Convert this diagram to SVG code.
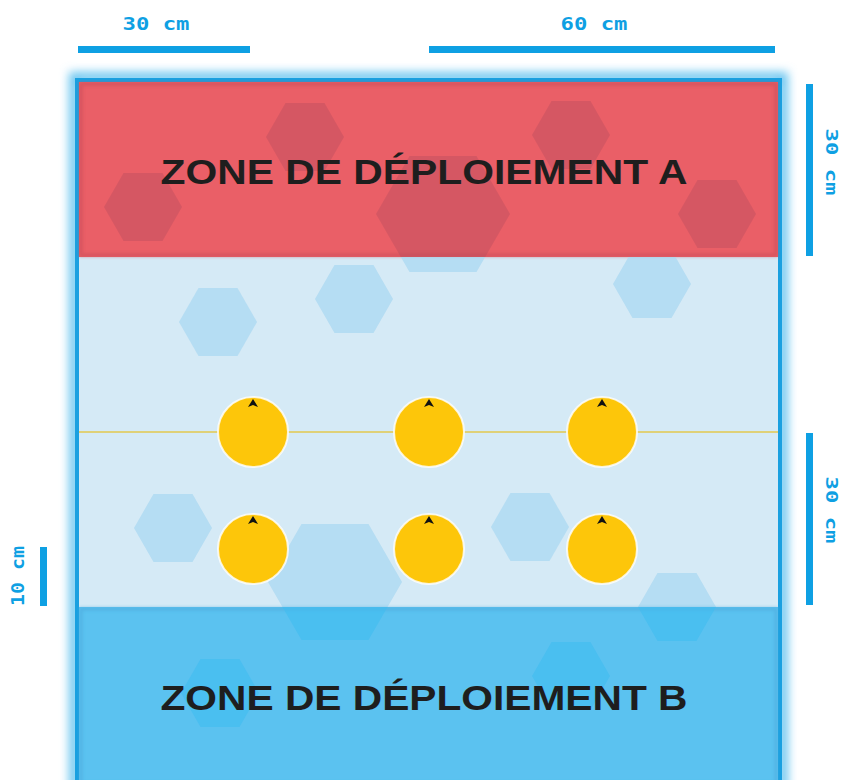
<svg xmlns="http://www.w3.org/2000/svg" width="843" height="780" viewBox="0 0 843 780">
<style>
.dim{fill:#0ea0e3;font-family:"DejaVu Sans Mono","Liberation Mono",monospace;font-weight:bold;font-size:17px}
.bar{fill:#0ea0e3}
.zone{fill:#1e1e1e;font-family:"Liberation Sans",Arial,sans-serif;font-weight:bold;font-size:35px}
.hexR{fill:#b04a5c;fill-opacity:0.35}
.hexL{fill:#a9d8f1;fill-opacity:0.75}
.hexB{fill:#3fbcf0;fill-opacity:0.6}
.tok{fill:#fdc60a;stroke:#fff;stroke-opacity:0.8;stroke-width:2}
.arr{fill:#111}
</style>
<defs>
<filter id="glow" x="-10%" y="-10%" width="120%" height="120%"><feGaussianBlur stdDeviation="5"/></filter>
<filter id="soft" x="-20%" y="-20%" width="140%" height="140%"><feGaussianBlur stdDeviation="1.5"/></filter>
<clipPath id="cR"><rect x="79" y="82" width="699" height="175"/></clipPath>
<clipPath id="cL"><rect x="79" y="257" width="699" height="350"/></clipPath>
<clipPath id="cB"><rect x="79" y="607" width="699" height="173"/></clipPath>
<polygon id="hs" points="-39,0 -19.5,-34 19.5,-34 39,0 19.5,34 -19.5,34"/>
<polygon id="hl" points="-67,0 -33.5,-58 33.5,-58 67,0 33.5,58 -33.5,58"/>
</defs>
<g id="board">
<rect x="74" y="77" width="709" height="720" fill="none" stroke="#6cc6f0" stroke-width="10" filter="url(#glow)"/>
<rect x="77" y="80" width="703" height="710" fill="#d5eaf6" stroke="#1aa0e0" stroke-width="4"/>
</g>
<g id="zoneA">
<rect x="79" y="82" width="699" height="175" fill="#ea5f67"/>
<rect x="81" y="84" width="695" height="171" fill="none" stroke="#c84b55" stroke-width="4" stroke-opacity="0.5" filter="url(#soft)"/>
<g clip-path="url(#cR)">
<use href="#hs" x="305" y="137" class="hexR"/>
<use href="#hs" x="143" y="207" class="hexR"/>
<use href="#hl" x="443" y="214" class="hexR"/>
<use href="#hs" x="571" y="135" class="hexR"/>
<use href="#hs" x="717" y="214" class="hexR"/>
</g>
<text x="424" y="184" class="zone" text-anchor="middle" textLength="527" lengthAdjust="spacingAndGlyphs">ZONE DE DÉPLOIEMENT A</text>
</g>
<g id="middle">
<g clip-path="url(#cL)">
<use href="#hl" x="443" y="214" class="hexL"/>
<use href="#hs" x="218" y="322" class="hexL"/>
<use href="#hs" x="354" y="299" class="hexL"/>
<use href="#hs" x="652" y="284" class="hexL"/>
<use href="#hs" x="173" y="528" class="hexL"/>
<use href="#hs" x="530" y="527" class="hexL"/>
<use href="#hl" x="335" y="582" class="hexL"/>
<use href="#hs" x="677" y="607" class="hexL"/>
</g>
<line x1="79" y1="432" x2="778" y2="432" stroke="#e2c94e" stroke-width="1.5"/>
</g>
<g id="zoneB">
<rect x="79" y="607" width="699" height="173" fill="#5bc2f0"/>
<rect x="81" y="609" width="695" height="175" fill="none" stroke="#4aa8dc" stroke-width="4" stroke-opacity="0.5" filter="url(#soft)"/>
<g clip-path="url(#cB)">
<use href="#hl" x="335" y="582" class="hexB"/>
<use href="#hs" x="677" y="607" class="hexB"/>
<use href="#hs" x="220" y="693" class="hexB"/>
<use href="#hs" x="571" y="676" class="hexB"/>
</g>
<text x="424" y="710" class="zone" text-anchor="middle" textLength="527" lengthAdjust="spacingAndGlyphs">ZONE DE DÉPLOIEMENT B</text>
</g>
<g id="tokens">
<g id="t1" transform="translate(253,432)"><circle r="35" class="tok"/><path class="arr" d="M0,-33 L-5,-25 L0,-27 L5,-25 Z"/></g>
<g id="t2" transform="translate(429,432)"><circle r="35" class="tok"/><path class="arr" d="M0,-33 L-5,-25 L0,-27 L5,-25 Z"/></g>
<g id="t3" transform="translate(602,432)"><circle r="35" class="tok"/><path class="arr" d="M0,-33 L-5,-25 L0,-27 L5,-25 Z"/></g>
<g id="t4" transform="translate(253,549)"><circle r="35" class="tok"/><path class="arr" d="M0,-33 L-5,-25 L0,-27 L5,-25 Z"/></g>
<g id="t5" transform="translate(429,549)"><circle r="35" class="tok"/><path class="arr" d="M0,-33 L-5,-25 L0,-27 L5,-25 Z"/></g>
<g id="t6" transform="translate(602,549)"><circle r="35" class="tok"/><path class="arr" d="M0,-33 L-5,-25 L0,-27 L5,-25 Z"/></g>
</g>
<g id="dims">
<g id="d1"><rect class="bar" x="78" y="46" width="172" height="7"/><text class="dim" x="156" y="30" text-anchor="middle" textLength="67" lengthAdjust="spacingAndGlyphs">30 cm</text></g>
<g id="d2"><rect class="bar" x="429" y="46" width="346" height="7"/><text class="dim" x="594" y="30" text-anchor="middle" textLength="67" lengthAdjust="spacingAndGlyphs">60 cm</text></g>
<g id="d3"><rect class="bar" x="806" y="84" width="7" height="172"/><text class="dim" style="font-size:16px" transform="translate(826,162) rotate(90)" text-anchor="middle" textLength="67" lengthAdjust="spacingAndGlyphs">30 cm</text></g>
<g id="d4"><rect class="bar" x="806" y="433" width="7" height="172"/><text class="dim" style="font-size:16px" transform="translate(826,510) rotate(90)" text-anchor="middle" textLength="67" lengthAdjust="spacingAndGlyphs">30 cm</text></g>
<g id="d5"><rect class="bar" x="40" y="547" width="7" height="59"/><text class="dim" transform="translate(24,576) rotate(-90)" text-anchor="middle" textLength="60" lengthAdjust="spacingAndGlyphs">10 cm</text></g>
</g>
</svg>
